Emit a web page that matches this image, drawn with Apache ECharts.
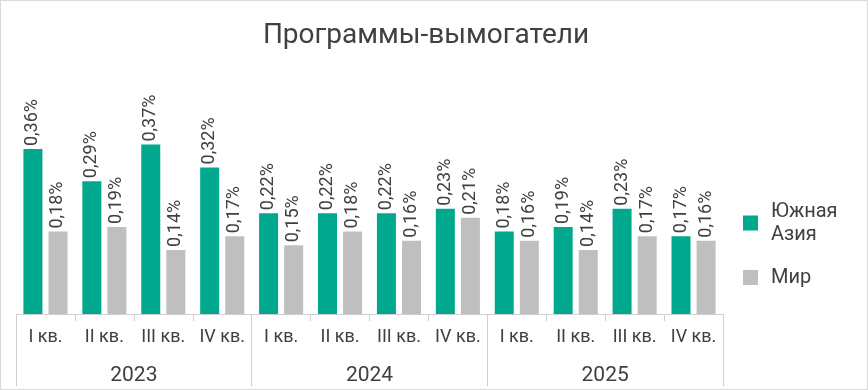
<!DOCTYPE html>
<html><head><meta charset="utf-8">
<script src="https://cdn.jsdelivr.net/npm/echarts@6/dist/echarts.min.js"></script>
<style>
html,body{margin:0;padding:0;background:#fff;}
#c{width:868px;height:390px;box-sizing:border-box;border:1px solid #d9d9d9;}
</style></head>
<body><div id="c"></div>
<script>
const quarters = ['I кв.','II кв.','III кв.','IV кв.','I кв.','II кв.','III кв.','IV кв.','I кв.','II кв.','III кв.','IV кв.'];
const years = ['2023','2024','2025'];
const southAsia = [0.36,0.29,0.37,0.32,0.22,0.22,0.22,0.23,0.18,0.19,0.23,0.17];
const world = [0.18,0.19,0.14,0.17,0.15,0.18,0.16,0.21,0.16,0.14,0.17,0.16];
const seriesNames = ['Южная Азия','Мир'];
const title = 'Программы-вымогатели';

const FONT = 'Roboto';
const TXT = '#404040';
const chart = echarts.init(document.getElementById('c'));
const label = {
  show:true, position:'top', rotate:90, align:'left', verticalAlign:'middle',
  distance:3, fontSize:18, color:TXT, fontFamily:FONT,
  formatter: p => p.value.toFixed(2).replace('.',',') + '%'
};
chart.setOption({
  animation:false,
  title:{text:title, left:420, top:16, textAlign:'center',
    textStyle:{fontSize:28, fontWeight:'normal', color:TXT, fontFamily:FONT}},
  legend:{orient:'vertical', left:737, top:194, itemWidth:15, itemHeight:15, itemGap:20,
    icon:'rect',
    formatter: n => n.replace(' ','\n'),
    textStyle:{fontSize:20, lineHeight:23, color:TXT, fontFamily:FONT, padding:[0,0,0,8]}},
  grid:{left:15, right:144, top:84, bottom:75, containLabel:false},
  xAxis:[
    {type:'category', data:quarters, position:'bottom',
      axisLine:{show:true, lineStyle:{color:'#d0d0d0', width:1}},
      axisTick:{show:true, interval:0, length:7, lineStyle:{color:'#d0d0d0'}},
      axisLabel:{interval:0, margin:14, fontSize:18, color:TXT, fontFamily:FONT}},
    {type:'category', data:years, position:'bottom',
      axisLine:{show:false},
      axisTick:{show:true, interval:0, length:72, lineStyle:{color:'#d0d0d0'}},
      axisLabel:{interval:0, margin:51, fontSize:21, color:TXT, fontFamily:FONT}}
  ],
  yAxis:{type:'value', min:0, max:0.5, show:false, splitLine:{show:false}},
  series:[
    {name:seriesNames[0], type:'bar', data:southAsia, barWidth:19, barGap:'32%',
      itemStyle:{color:'#00A88E'}, label:label},
    {name:seriesNames[1], type:'bar', data:world, barWidth:19,
      itemStyle:{color:'#BFBFBF'}, label:label}
  ]
});
</script></body></html>
